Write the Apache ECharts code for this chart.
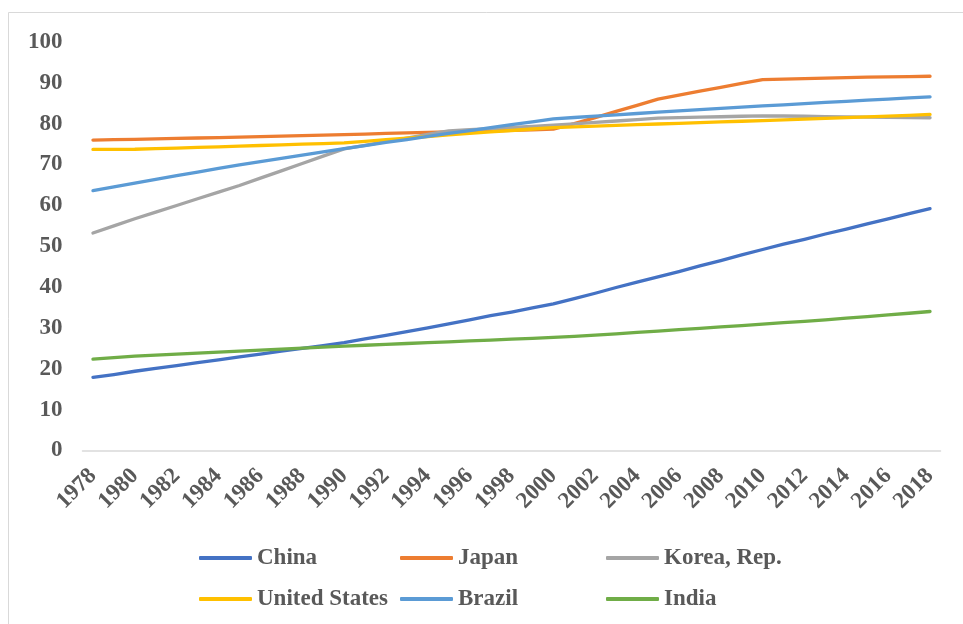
<!DOCTYPE html>
<html>
<head>
<meta charset="utf-8">
<script src="https://cdn.jsdelivr.net/npm/echarts@6/dist/echarts.min.js"></script>
<style>
html,body{margin:0;padding:0;background:#fff;}
#c{width:963px;height:624px;}
</style>
</head>
<body>
<div id="c"></div>
<script>
var years = ['1978','1979','1980','1981','1982','1983','1984','1985','1986','1987','1988','1989','1990','1991','1992','1993','1994','1995','1996','1997','1998','1999','2000','2001','2002','2003','2004','2005','2006','2007','2008','2009','2010','2011','2012','2013','2014','2015','2016','2017','2018'];

var china = [17.9,18.6,19.4,20.1,20.8,21.5,22.2,22.9,23.6,24.3,25.0,25.7,26.4,27.3,28.2,29.1,30.0,31.0,32.0,33.0,33.9,34.9,35.9,37.2,38.5,39.9,41.2,42.5,43.8,45.2,46.5,47.9,49.2,50.5,51.7,53.0,54.2,55.5,56.7,58.0,59.2];
var japan = [76.00,76.09,76.18,76.29,76.39,76.50,76.60,76.71,76.83,76.96,77.08,77.21,77.34,77.47,77.61,77.74,77.88,78.02,78.14,78.27,78.39,78.52,78.65,80.00,81.50,83.00,84.50,86.00,87.00,88.00,88.90,89.90,90.81,90.93,91.05,91.16,91.27,91.38,91.46,91.54,91.62];
var korea = [53.24,54.98,56.72,58.35,59.98,61.62,63.25,64.88,66.67,68.46,70.26,72.05,73.84,74.72,75.60,76.48,77.36,78.24,78.52,78.79,79.07,79.34,79.62,79.97,80.31,80.66,81.00,81.35,81.47,81.59,81.70,81.82,81.94,81.88,81.82,81.75,81.69,81.63,81.58,81.50,81.46];
var usa = [73.70,73.72,73.74,73.89,74.04,74.20,74.35,74.50,74.66,74.82,74.98,75.14,75.30,75.69,76.08,76.48,76.87,77.26,77.62,77.98,78.34,78.70,79.06,79.23,79.41,79.58,79.76,79.93,80.10,80.27,80.44,80.60,80.77,80.95,81.13,81.31,81.49,81.67,81.86,82.06,82.26];
var brazil = [63.60,64.53,65.47,66.36,67.26,68.15,69.05,69.94,70.74,71.53,72.33,73.12,73.92,74.66,75.40,76.13,76.87,77.61,78.33,79.04,79.76,80.47,81.19,81.52,81.84,82.17,82.50,82.83,83.13,83.43,83.74,84.04,84.34,84.63,84.91,85.20,85.48,85.77,86.04,86.31,86.57];
var india = [22.39,22.75,23.10,23.35,23.60,23.85,24.10,24.35,24.59,24.83,25.07,25.31,25.55,25.76,25.98,26.19,26.40,26.61,26.82,27.03,27.25,27.46,27.67,27.92,28.24,28.57,28.90,29.24,29.57,29.91,30.25,30.59,30.93,31.28,31.63,32.00,32.38,32.78,33.18,33.60,34.03];

var seriesNames = ['China','Japan','Korea, Rep.','United States','Brazil','India'];
var seriesData = [china, japan, korea, usa, brazil, india];
var colors = ['#4472C4','#ED7D31','#A5A5A5','#FFC000','#5B9BD5','#70AD47'];

var FONT = "'Liberation Serif','Times New Roman',serif";
var TXT = '#595959';

var chart = echarts.init(document.getElementById('c'), null, {renderer:'canvas'});

function legendCol(names, left) {
  return {
    data: names,
    orient: 'vertical',
    left: left,
    top: 546,
    itemGap: 17,
    itemWidth: 53,
    itemHeight: 4,
    icon: 'roundRect',
    padding: 0,
    selectedMode: false,
    textStyle: {fontFamily: FONT, fontSize: 23, fontWeight: 'bold', color: TXT, lineHeight: 24, padding: [0,0,0,0]}
  };
}

var option = {
  backgroundColor: '#fff',
  animation: false,
  color: colors,
  graphic: [{
    type: 'rect',
    shape: {x: 8.5, y: 12.5, width: 1000, height: 1000},
    style: {fill: 'none', stroke: '#d9d9d9', lineWidth: 1},
    silent: true
  }],
  grid: {left: 82.5, right: 22.5, top: 42, bottom: 173.5, containLabel: false},
  legend: [
    legendCol(['China','United States'], 199),
    legendCol(['Japan','Brazil'], 400),
    legendCol(['Korea, Rep.','India'], 606)
  ],
  xAxis: {
    type: 'category',
    data: years,
    boundaryGap: true,
    axisLine: {show: true, lineStyle: {color: '#d9d9d9', width: 1.5}},
    axisTick: {show: false},
    axisLabel: {
      interval: 1,
      rotate: 45,
      margin: 22,
      fontFamily: FONT, fontSize: 23, fontWeight: 'bold', color: TXT
    },
    splitLine: {show: false}
  },
  yAxis: {
    type: 'value',
    min: 0, max: 100, interval: 10,
    axisLine: {show: false},
    axisTick: {show: false},
    splitLine: {show: false},
    axisLabel: {margin: 20, fontFamily: FONT, fontSize: 23, fontWeight: 'bold', color: TXT}
  },
  series: seriesNames.map(function (n, i) {
    return {
      name: n,
      type: 'line',
      data: seriesData[i],
      showSymbol: false,
      symbol: 'none',
      smooth: false,
      lineStyle: {width: 3.3, color: colors[i], cap: 'round', join: 'round'},
      itemStyle: {color: colors[i]},
      z: 2
    };
  })
};
chart.setOption(option);
</script>
</body>
</html>
